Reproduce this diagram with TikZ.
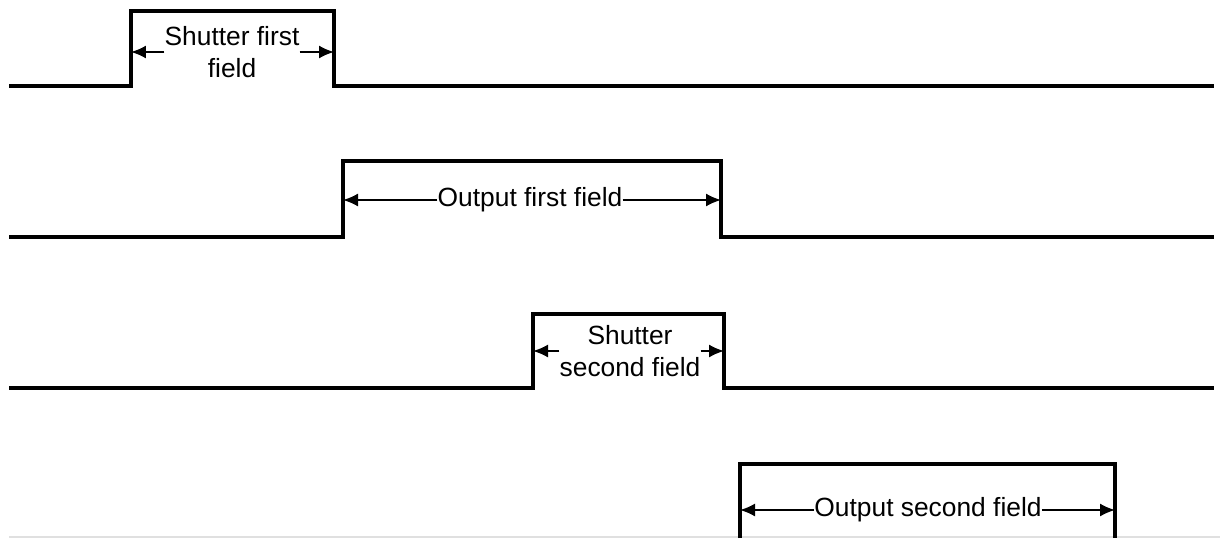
\documentclass[tikz,border=0pt]{standalone}
\usepackage{fontspec}
\setmainfont{Liberation Sans}
\usepackage{tikz}
\usetikzlibrary{arrows.meta,positioning,calc}

\tikzset{
  signal/.style={line width=2.3pt, line join=miter},
  span/.style={line width=1pt, -{Latex[length=3mm,width=2.6mm]}},
  lbl/.style={inner sep=0pt, align=center, font=\fontsize{15}{18}\selectfont}
}

\begin{document}
\begin{tikzpicture}[x=0.02cm, y=-0.02cm]
  \useasboundingbox (0,0) rectangle (1220,538);

  % Shutter first field
  \coordinate (sa1) at (131,52);
  \coordinate (sa2) at (334,52);
  \draw[signal] (9,86) -- (131,86) -- (131,11) -- (334,11) -- (334,86) -- (1214,86);
  \node[lbl] (shut1) at (232,52) {Shutter first\\field};
  \draw[span] (shut1.west) -- (sa1);
  \draw[span] (shut1.east) -- (sa2);

  % Output first field
  \coordinate (oa1) at (343,200);
  \coordinate (oa2) at (721,200);
  \draw[signal] (9,237) -- (343,237) -- (343,161) -- (721,161) -- (721,237) -- (1214,237);
  \node[lbl] (out1) at (530,200) {Output first field};
  \draw[span] (out1.west) -- (oa1);
  \draw[span] (out1.east) -- (oa2);

  % Shutter second field
  \coordinate (sb1) at (533,351);
  \coordinate (sb2) at (724,351);
  \draw[signal] (9,388) -- (533,388) -- (533,314) -- (724,314) -- (724,388) -- (1214,388);
  \node[lbl] (shut2) at (630,351) {Shutter\\second field};
  \draw[span] (shut2.west) -- (sb1);
  \draw[span] (shut2.east) -- (sb2);

  % Output second field (cut at the bottom)
  \coordinate (ob1) at (740,510);
  \coordinate (ob2) at (1115,510);
  \draw[black!12, line width=0.6pt] (9,537) -- (1220,537);
  \draw[signal] (740,538) -- (740,464) -- (1115,464) -- (1115,538);
  \node[lbl] (out2) at (928,510) {Output second field};
  \draw[span] (out2.west) -- (ob1);
  \draw[span] (out2.east) -- (ob2);
\end{tikzpicture}
\end{document}
